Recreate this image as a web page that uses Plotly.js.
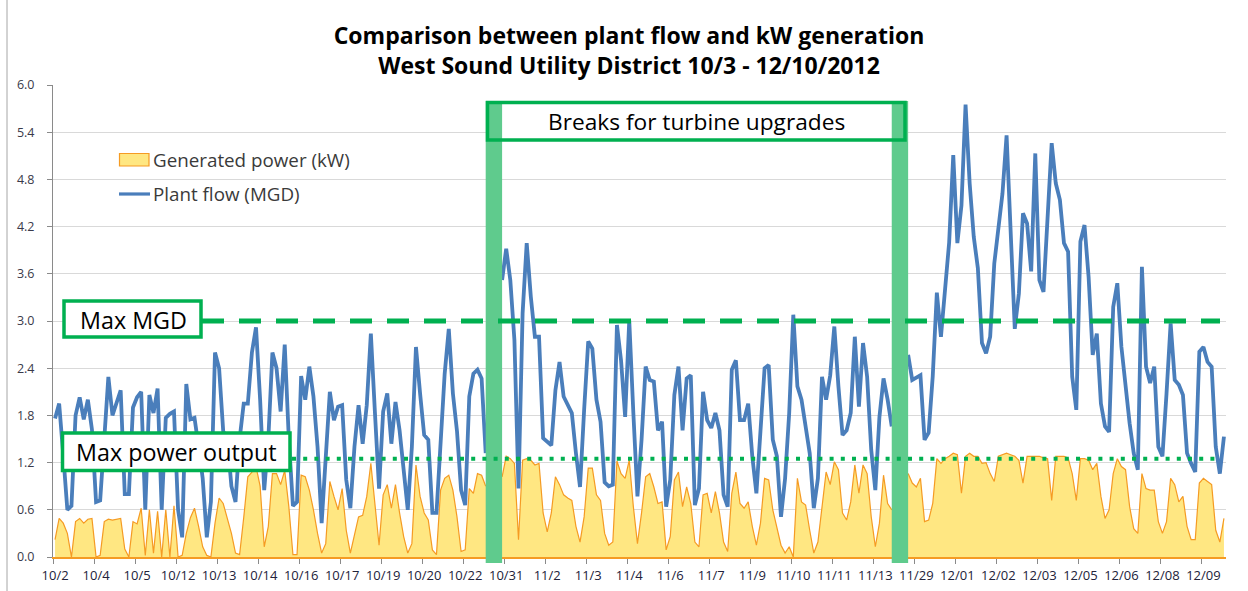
<!DOCTYPE html>
<html>
<head>
<meta charset="utf-8">
<script src="https://cdn.plot.ly/plotly-3.0.1.min.js"></script>
<style>
  html, body { margin: 0; padding: 0; background: #ffffff; }
  #chart { width: 1248px; height: 591px; }
</style>
</head>
<body>
<div id="chart"></div>
<script>
// ---- Data ----
const tickLabels = ['10/2','10/4','10/5','10/12','10/13','10/14','10/16','10/17','10/19','10/20',
  '10/22','10/31','11/2','11/3','11/4','11/6','11/7','11/9','11/10','11/11',
  '11/13','11/29','12/01','12/02','12/03','12/05','12/06','12/08','12/09'];

const plantFlowMGD = [
  1.76,1.95,1.3,0.6,0.65,1.8,2.03,1.75,2.0,1.62,
  0.7,0.72,1.5,2.29,1.8,1.97,2.12,0.8,0.8,1.9,
  2.03,2.1,0.6,2.06,1.83,2.14,0.6,1.77,1.82,1.85,
  0.6,0.25,2.2,1.75,1.77,1.4,1.0,0.25,0.7,2.6,
  2.4,1.6,1.5,0.9,0.7,1.5,1.95,1.95,2.6,2.92,
  2.0,0.85,1.5,2.6,2.4,1.85,2.7,1.5,0.65,0.7,
  2.3,2.0,2.42,2.04,1.4,0.43,1.19,2.1,1.74,1.91,
  1.93,0.98,0.62,1.4,1.93,1.44,1.93,2.84,1.83,0.87,
  1.85,2.08,1.44,1.97,1.61,1.06,0.6,1.4,2.67,2.08,
  1.55,1.49,0.56,0.56,1.53,2.33,2.9,2.08,1.6,0.85,
  0.66,2.04,2.33,2.38,2.27,1.32,null,null,null,3.52,
  3.92,3.52,2.76,0.87,3.1,3.99,3.31,2.8,2.8,1.51,
  1.47,1.42,2.12,2.48,2.04,1.93,1.83,1.32,0.89,1.87,
  2.74,2.65,2.0,1.72,0.95,0.9,0.92,2.95,2.5,1.78,
  3.01,1.83,0.77,1.49,2.42,2.25,2.23,1.61,1.72,0.64,
  0.98,2.06,2.42,1.61,2.27,2.31,0.66,0.87,2.1,1.74,
  1.64,1.83,1.61,0.79,0.64,2.38,2.5,1.74,1.74,1.95,
  1.28,0.81,1.57,2.4,2.44,1.49,1.28,0.51,1.0,1.83,
  3.08,2.17,2.0,1.66,1.32,0.62,1.0,2.29,2.0,2.31,
  2.93,2.17,1.55,1.61,1.83,2.8,1.91,2.72,2.29,1.36,
  0.85,1.78,2.27,2.0,1.66,null,null,null,2.57,2.25,
  2.28,2.31,1.49,1.58,2.3,3.36,2.8,3.44,4.0,5.11,
  3.99,4.47,5.75,4.75,4.07,3.67,2.72,2.59,2.8,3.73,
  4.2,4.62,5.36,3.99,2.9,3.35,4.37,4.24,3.63,5.13,
  3.52,3.37,4.37,5.26,4.75,4.54,3.99,3.88,2.29,1.87,
  4.01,4.22,3.56,2.57,2.84,1.95,1.66,1.59,3.18,3.48,
  2.67,2.17,1.7,1.32,1.11,3.69,2.42,2.21,2.42,1.4,
  1.28,2.08,2.97,2.25,2.19,2.06,1.32,1.19,1.08,2.61,
  2.67,2.48,2.42,1.4,1.06,1.53
];

const generatedPowerKW = [
  0.22,0.49,0.43,0.3,0.0,0.45,0.49,0.43,0.48,0.49,
  0.0,0.02,0.45,0.48,0.47,0.48,0.49,0.1,0.0,0.45,
  0.42,0.62,0.02,0.6,0.05,0.58,0.0,0.6,0.0,0.65,
  0.0,0.02,0.3,0.5,0.62,0.39,0.13,0.02,0.0,0.43,
  0.75,0.68,0.5,0.3,0.05,0.03,0.5,1.02,1.08,1.15,
  0.9,0.13,0.39,1.06,1.06,0.92,1.1,0.64,0.03,0.03,
  1.04,1.02,0.85,0.6,0.3,0.05,0.17,0.96,0.77,0.6,
  0.87,0.34,0.05,0.3,0.51,0.53,0.77,1.19,0.64,0.15,
  0.79,0.92,0.62,0.92,0.56,0.26,0.05,0.17,1.17,0.77,
  0.56,0.47,0.09,0.03,0.85,1.0,1.04,0.85,0.51,0.07,
  0.09,0.87,0.81,1.06,1.04,0.9,null,null,null,1.02,
  1.28,1.25,1.19,0.22,1.23,1.25,1.23,1.17,1.19,0.56,
  0.32,0.56,1.02,0.92,0.79,0.75,0.72,0.39,0.19,0.51,
  1.13,1.13,0.79,0.72,0.3,0.15,0.19,1.22,1.06,1.0,
  1.23,0.64,0.17,0.56,1.02,1.06,0.89,0.68,0.7,0.09,
  0.26,0.98,1.08,0.64,0.89,0.68,0.19,0.13,0.79,0.81,
  0.56,0.83,0.56,0.19,0.07,0.81,1.08,0.68,0.62,0.7,
  0.39,0.15,0.43,1.0,0.98,0.6,0.36,0.15,0.05,0.13,
  0.0,1.0,0.7,0.66,0.34,0.05,0.19,0.6,1.08,0.92,
  1.21,1.11,0.56,0.47,0.7,1.17,0.81,1.17,1.06,0.51,
  0.13,0.43,1.04,0.68,0.6,null,null,null,1.06,0.94,
  0.89,1.0,0.45,0.47,0.68,1.25,1.19,1.25,1.28,1.32,
  1.3,0.81,1.28,1.32,1.28,1.28,1.19,1.2,1.06,0.96,
  1.28,1.3,1.32,1.3,1.28,1.23,0.94,1.28,1.28,1.28,
  1.28,1.26,1.25,0.72,1.28,1.28,1.28,1.26,1.06,0.72,
  1.25,1.25,1.23,1.11,1.19,0.77,0.49,0.6,1.06,1.25,
  1.15,1.11,0.64,0.36,0.3,1.06,0.87,0.85,0.85,0.45,
  0.3,0.45,1.0,0.92,0.7,0.77,0.39,0.22,0.22,0.94,
  1.0,0.96,0.92,0.34,0.19,0.49
];

const maxMGD = 3.0;
const maxPowerOutput = 1.25;
const breakStarts = [105, 204];
const breakEnds = [109, 208];

// ---- Geometry helpers (pixel -> paper) ----
const W = 1248, Hh = 591;
const M = { l: 53, r: 22, t: 85, b: 34 };
const PW = W - M.l - M.r, PH = Hh - M.t - M.b;
const px = x => (x - M.l) / PW;
const py = y => (Hh - M.b - y) / PH;

const xIdx = plantFlowMGD.map((_, i) => i);
const tickVals = tickLabels.map((_, k) => k * 10);

const FONT = '"Open Sans", "DejaVu Sans", sans-serif';
const GREEN = '#00B050';
const BAND = '#5FCB8D';

const traces = [
  {
    x: xIdx, y: generatedPowerKW, type: 'scatter', mode: 'lines',
    name: 'Generated power (kW)', fill: 'tozeroy', connectgaps: false,
    fillcolor: 'rgb(255,231,130)', line: { color: '#F59B23', width: 1.2 },
    hoverinfo: 'y'
  },
  {
    x: xIdx, y: plantFlowMGD, type: 'scatter', mode: 'lines',
    name: 'Plant flow (MGD)', connectgaps: false,
    line: { color: '#4A7EBB', width: 3.8 }, hoverinfo: 'y'
  }
];

const shapes = [];
// outer chart border (left edge)
shapes.push({ type: 'line', xref: 'paper', yref: 'paper', x0: px(7), x1: px(7), y0: py(0), y1: py(591),
  line: { color: '#A6A6A6', width: 1 } });
// breaks box fill
shapes.push({ type: 'rect', xref: 'paper', yref: 'paper', x0: px(486), x1: px(906), y0: py(101), y1: py(141),
  fillcolor: '#ffffff', line: { width: 0 } });
// break bands
breakStarts.forEach((s, k) => {
  shapes.push({ type: 'rect', xref: 'x', yref: 'paper', x0: s, x1: breakEnds[k], y0: py(101), y1: py(563),
    fillcolor: BAND, line: { width: 0 }, layer: 'above' });
});
// breaks box border
shapes.push({ type: 'rect', xref: 'paper', yref: 'paper', x0: px(487.5), x1: px(905), y0: py(102.5), y1: py(140),
  fillcolor: 'rgba(0,0,0,0)', line: { color: GREEN, width: 3.5 } });
// Max MGD dashed line
shapes.push({ type: 'line', xref: 'paper', yref: 'y', x0: px(202), x1: px(1220), y0: maxMGD, y1: maxMGD,
  line: { color: GREEN, width: 5, dash: '22px,15px' } });
// Max power dotted line
shapes.push({ type: 'line', xref: 'paper', yref: 'y', x0: px(292), x1: px(1220), y0: maxPowerOutput, y1: maxPowerOutput,
  line: { color: GREEN, width: 4, dash: '4px,7.2px' } });
// Max MGD box
shapes.push({ type: 'rect', xref: 'paper', yref: 'paper', x0: px(64), x1: px(201), y0: py(301), y1: py(337),
  fillcolor: '#ffffff', line: { color: GREEN, width: 3.5 } });
// Max power output box
shapes.push({ type: 'rect', xref: 'paper', yref: 'paper', x0: px(62.5), x1: px(290), y0: py(433), y1: py(470.5),
  fillcolor: '#ffffff', line: { color: GREEN, width: 3.5 } });
// legend swatches
shapes.push({ type: 'rect', xref: 'paper', yref: 'paper', x0: px(119.5), x1: px(149), y0: py(153.5), y1: py(166),
  fillcolor: 'rgb(255,231,130)', line: { color: '#F59B23', width: 1.2 } });
shapes.push({ type: 'line', xref: 'paper', yref: 'paper', x0: px(119), x1: px(150), y0: py(194), y1: py(194),
  line: { color: '#4A7EBB', width: 3.2 } });

const annotations = [
  { xref: 'paper', yref: 'paper', x: px(696.5), y: py(121.5), text: 'Breaks for turbine upgrades', showarrow: false,
    xanchor: 'center', yanchor: 'middle', font: { family: FONT, size: 22.7, color: '#000000' } },
  { xref: 'paper', yref: 'paper', x: px(133.5), y: py(319.5), text: 'Max MGD', showarrow: false,
    xanchor: 'center', yanchor: 'middle', font: { family: FONT, size: 23.3, color: '#000000' } },
  { xref: 'paper', yref: 'paper', x: px(176.5), y: py(452), text: 'Max power output', showarrow: false,
    xanchor: 'center', yanchor: 'middle', font: { family: FONT, size: 23.3, color: '#000000' } },
  { xref: 'paper', yref: 'paper', x: px(151), y: py(160), text: 'Generated power (kW)', showarrow: false,
    xanchor: 'left', yanchor: 'middle', font: { family: FONT, size: 18.8, color: '#3a3a3a' } },
  { xref: 'paper', yref: 'paper', x: px(151), y: py(194), text: 'Plant flow (MGD)', showarrow: false,
    xanchor: 'left', yanchor: 'middle', font: { family: FONT, size: 18.8, color: '#3a3a3a' } }
];

const layout = {
  width: W, height: Hh,
  margin: M,
  paper_bgcolor: '#ffffff', plot_bgcolor: '#ffffff',
  showlegend: false,
  title: {
    text: '<b>Comparison between plant flow and kW generation<br>West Sound Utility District 10/3 - 12/10/2012</b>',
    x: 629 / W, xanchor: 'center', y: 1 - 44 / Hh, yanchor: 'middle', yref: 'container',
    font: { family: FONT, size: 23, color: '#000000' }
  },
  xaxis: {
    range: [-0.5, plantFlowMGD.length - 0.5],
    tickmode: 'array', tickvals: tickVals, ticktext: tickLabels,
    ticks: '', showgrid: false, zeroline: false,
    showline: true, linecolor: '#F59B23', linewidth: 1.5,
    tickfont: { family: FONT, size: 13, color: '#22223a' },
    ticklabelstandoff: 6,
    minor: { tick0: -0.5, dtick: 10, ticks: 'outside', ticklen: 5, tickcolor: '#8a8a8a', tickwidth: 1, showgrid: false },
    fixedrange: true
  },
  yaxis: {
    range: [0, 6], tick0: 0, dtick: 0.6, tickformat: '.1f',
    ticks: 'outside', ticklen: 5, tickcolor: '#8a8a8a',
    showgrid: true, gridcolor: '#D9D9D9', gridwidth: 1,
    zeroline: false, showline: true, linecolor: '#8a8a8a', linewidth: 1,
    tickfont: { family: FONT, size: 12.5, color: '#3a3a4a' },
    ticklabelstandoff: 10,
    fixedrange: true
  },
  shapes: shapes,
  annotations: annotations
};

Plotly.newPlot('chart', traces, layout, { displayModeBar: false, staticPlot: true });
</script>
</body>
</html>
